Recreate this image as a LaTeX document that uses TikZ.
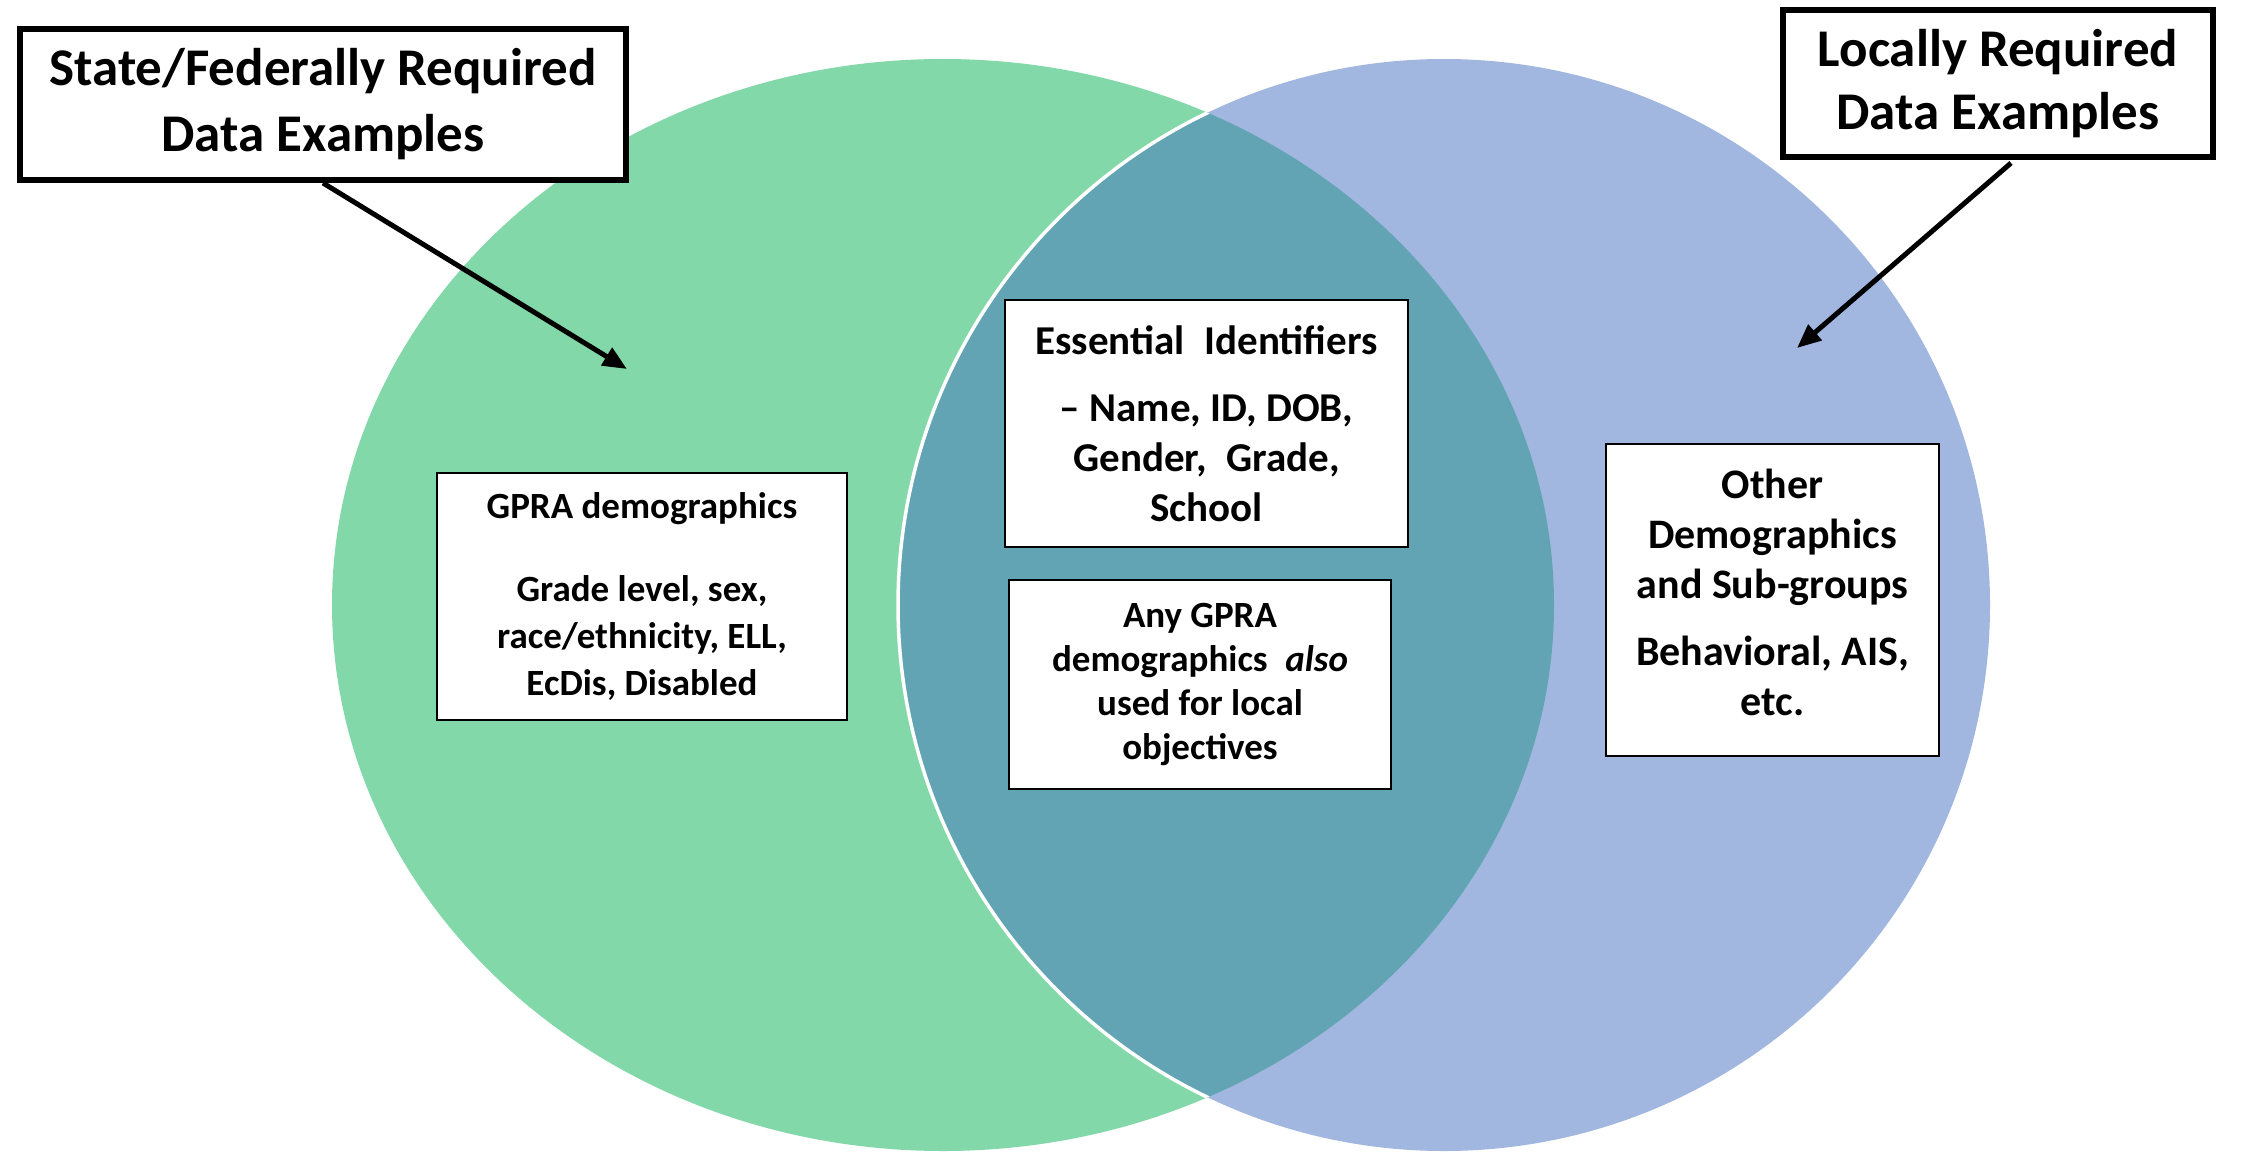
\documentclass[tikz,border=0pt]{standalone}
\usepackage{fontspec}
\setmainfont{Carlito}
\usetikzlibrary{arrows.meta}
\definecolor{vgreen}{RGB}{130,216,168}
\definecolor{vblue}{RGB}{161,183,224}
\definecolor{vover}{RGB}{98,164,180}
\tikzset{
  titlebox/.style={draw=black, line width=6pt, fill=white, align=center, inner sep=0pt,
    font=\bfseries\fontsize{53}{67}\selectfont},
  infobox/.style={draw=black, line width=2.5pt, fill=white, align=center, inner sep=0pt},
  callout/.style={draw=black, line width=5pt, -{Triangle[length=24pt,width=20pt]}},
}
\begin{document}
\begin{tikzpicture}[x=1pt,y=-1pt]
\useasboundingbox (0,0) rectangle (2243,1153);
% circles
\fill[vgreen] (943,605) ellipse [x radius=611, y radius=546];
\fill[vblue] (1444,605) circle [radius=546];
\begin{scope}
  \clip (943,605) ellipse [x radius=611, y radius=546];
  \fill[vover] (1444,605) circle [radius=546];
  \draw[white, line width=3.5pt] (1444,605) circle [radius=546];
\end{scope}
% title boxes
\node[titlebox, minimum width=606pt, minimum height=151pt] (tl) at (323,104.5)
  {State/Federally Required\\[-1pt]Data Examples};
\node[titlebox, minimum width=430pt, minimum height=147pt, font=\bfseries\fontsize{53}{63}\selectfont] (tr) at (1998,83.5)
  {Locally Required\\Data Examples};
\coordinate (tlend) at (627,369);
\coordinate (trstart) at (2011,163);
\coordinate (trend) at (1797,348);
\draw[callout] (tl.south) -- (tlend);
\draw[callout] (trstart) -- (trend);
% inner boxes
\node[infobox, minimum width=410pt, minimum height=247pt, font=\bfseries\fontsize{37}{47}\selectfont] (gpra) at (642,596.5)
  {GPRA demographics\\[36pt]Grade level, sex,\\race/ethnicity, ELL,\\EcDis, Disabled};
\node[infobox, minimum width=403pt, minimum height=247pt, font=\bfseries\fontsize{41}{50}\selectfont] (ess) at (1206.5,423.5)
  {Essential\hspace{0.25em} Identifiers\\[17pt]-- Name, ID, DOB,\\Gender,\hspace{0.25em} Grade,\\School};
\node[infobox, minimum width=382pt, minimum height=209pt, font=\bfseries\fontsize{37}{44}\selectfont] (any) at (1200,684.5)
  {Any GPRA\\demographics\hspace{0.25em} \textit{also}\\used for local\\objectives};
\node[infobox, minimum width=333pt, minimum height=312pt, font=\bfseries\fontsize{42}{50}\selectfont] (oth) at (1772.5,600)
  {Other\\Demographics\\and Sub-groups\\[17pt]Behavioral, AIS,\\etc.\\[-34pt]\mbox{}};
\end{tikzpicture}
\end{document}
